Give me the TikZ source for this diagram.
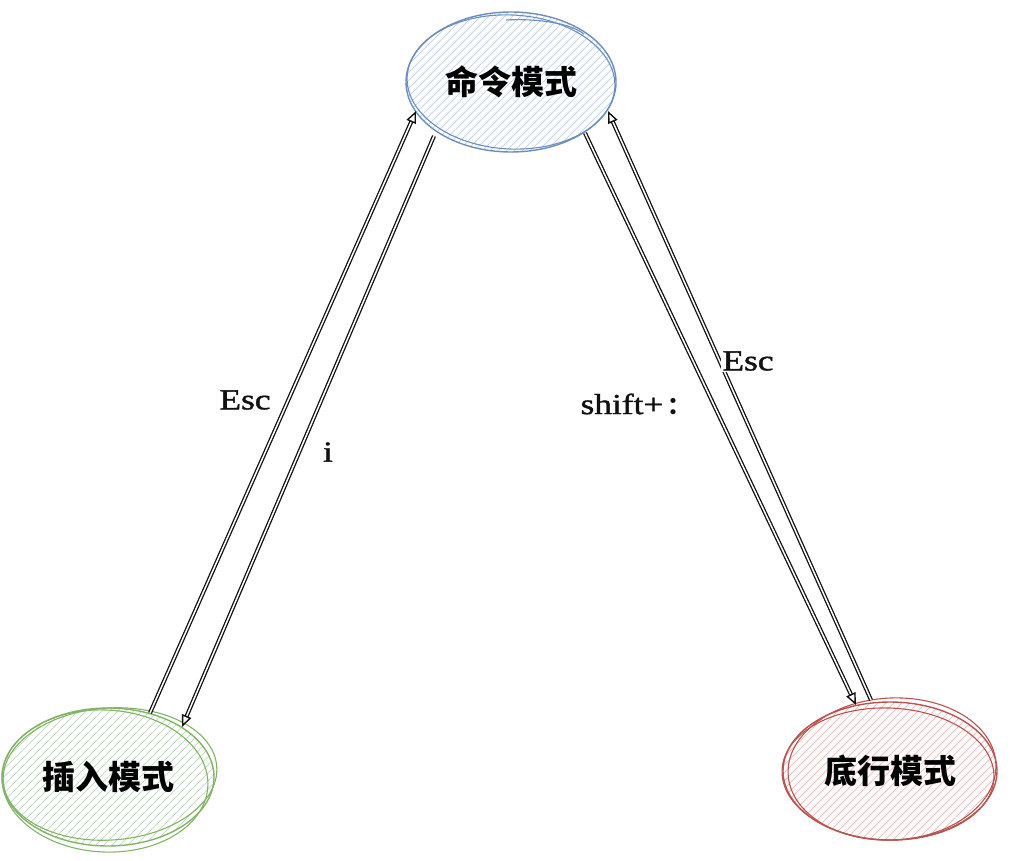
\documentclass[tikz,border=0pt]{standalone}
\usepackage{fontspec}
\setmainfont{Liberation Serif}
\newfontfamily\cjk{Noto Sans CJK SC}
\newfontfamily\lblfont[FakeBold=1.2]{Liberation Serif}
\usetikzlibrary{arrows.meta,calc,shapes.geometric}
\definecolor{bluestroke}{HTML}{6C8EBF}
\definecolor{bluehatch}{HTML}{C3D7F5}
\definecolor{greenstroke}{HTML}{82B366}
\definecolor{greenhatch}{HTML}{C3E0C1}
\definecolor{redstroke}{HTML}{B85450}
\definecolor{redhatch}{HTML}{F4C0BE}
\definecolor{ink}{HTML}{111111}
\tikzset{
  modebox/.style 2 args={ellipse, draw=#1, line width=1.4pt, minimum width=210pt, minimum height=140pt, inner sep=0pt,
    font=\cjk\bfseries\fontsize{33}{38}\selectfont,
    path picture={\foreach \k in {-26,...,26}{\draw[#2, line width=0.9pt] ($(path picture bounding box.center)+(\k*8-170,170)$) -- ++(340,-340);}}},
  sketch/.style={line width=1.1pt},
  dbl/.style={draw=ink, line width=1.3pt, double=white, double distance=1.5pt, shorten >=10pt},
  tipline/.style={draw=ink, line width=1.4pt, -{Triangle[length=12pt,width=10pt,fill=white]}},
  lbl/.style={font=\lblfont\fontsize{29}{33}\selectfont, inner sep=1pt, text=ink},
}
\newcommand{\wide}[1]{\scalebox{1.22}[1]{#1}}
\begin{document}
\begin{tikzpicture}[x=1pt,y=-1pt]
\useasboundingbox (0,0) rectangle (1017,861);
% mode nodes
\node[modebox={bluestroke}{bluehatch}] (cmd) at (511,82) {命令模式};
\node[modebox={greenstroke}{greenhatch}, minimum width=212pt, minimum height=138pt] (ins) at (108,777) {插入模式};
\node[modebox={redstroke}{redhatch}, minimum width=214pt, minimum height=138pt] (bot) at (890,771) {底行模式};
% sketchy second outlines
\draw[bluestroke, sketch] (cmd.center) ellipse [x radius=104, y radius=67, rotate=-3];
\draw[bluestroke, sketch] ($(cmd.center)+(-5,-62)$) arc [start angle=-100, end angle=-20, x radius=70, y radius=22];
\draw[greenstroke, sketch] ($(ins.center)+(2,-3)$) ellipse [x radius=107, y radius=66, rotate=4];
\draw[greenstroke, sketch] ($(ins.center)+(-3,4)$) ellipse [x radius=103, y radius=71, rotate=-3];
\draw[redstroke, sketch] ($(bot.center)+(2,-2)$) ellipse [x radius=104, y radius=71, rotate=3];
\draw[redstroke, sketch] ($(bot.center)+(-2,3)$) ellipse [x radius=106, y radius=66, rotate=-2];
% end points
\coordinate (e1s) at (150,713); \coordinate (e1e) at (416,111);
\coordinate (i1s) at (434,136); \coordinate (i1e) at (182,727);
\coordinate (s1s) at (585,133); \coordinate (s1e) at (856,705);
\coordinate (e2s) at (871,700); \coordinate (e2e) at (608,111);
% connectors
\draw[dbl] (e1s) -- (e1e);
\draw[tipline] ($(e1e)!12pt!(e1s)$) -- (e1e);
\draw[dbl] (i1s) -- (i1e);
\draw[tipline] ($(i1e)!12pt!(i1s)$) -- (i1e);
\draw[dbl] (s1s) -- (s1e);
\draw[tipline] ($(s1e)!12pt!(s1s)$) -- (s1e);
\draw[dbl] (e2s) -- (e2e);
\draw[tipline] ($(e2e)!12pt!(e2s)$) -- (e2e);
% labels
\node[lbl] (lesc1) at (245,400) {\wide{Esc}};
\node[lbl] (li) at (328,452) {\wide{i}};
\node[lbl] (lshift) at (636,404) {\wide{shift+}\hspace{4pt}{\cjk\bfseries\fontsize{24}{28}\selectfont ：}};
\node[lbl, fill=white] (lesc2) at (748,361) {\wide{Esc}};
\end{tikzpicture}
\end{document}
